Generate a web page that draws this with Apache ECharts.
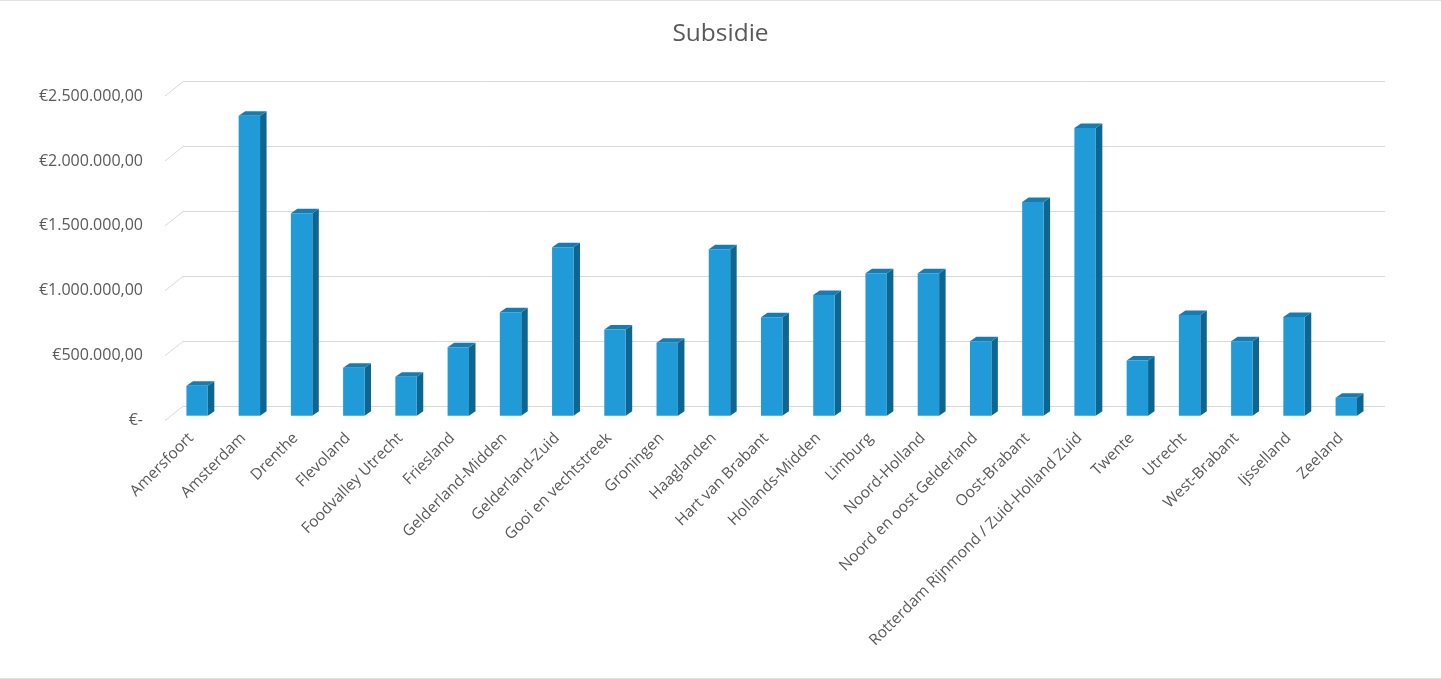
<!DOCTYPE html>
<html>
<head>
<meta charset="utf-8">
<script src="https://cdn.jsdelivr.net/npm/echarts@6/dist/echarts.min.js"></script>
<style>
html,body{margin:0;padding:0;background:#fff;}
#c{width:1441px;height:679px;box-sizing:border-box;border-top:1px solid #e3e3e3;border-bottom:1px solid #e3e3e3;}
</style>
</head>
<body>
<div id="c"></div>
<script>
const categories = ['Amersfoort','Amsterdam','Drenthe','Flevoland','Foodvalley Utrecht','Friesland','Gelderland-Midden','Gelderland-Zuid','Gooi en vechtstreek','Groningen','Haaglanden','Hart van Brabant','Hollands-Midden','Limburg','Noord-Holland','Noord en oost Gelderland','Oost-Brabant','Rotterdam Rijnmond / Zuid-Holland Zuid','Twente','Utrecht','West-Brabant','Ijsselland','Zeeland'];
const subsidie = [230000,2310000,1560000,370000,300000,528000,796000,1297000,664000,562000,1282000,758000,929000,1098000,1098000,574000,1646000,2216000,426000,776000,574000,761000,138000];
const yTicks = [0,500000,1000000,1500000,2000000,2500000];
const yTickLabels = ['€-','€500.000,00','€1.000.000,00','€1.500.000,00','€2.000.000,00','€2.500.000,00'];

const FONT = '"Open Sans"';
const TXT = '#595959';
const DEPTH_X = -18, DEPTH_Y = 14.3;
const BAR_DX = 6.5, BAR_DY = -4.5;

const chart = echarts.init(document.getElementById('c'), null, {renderer:'canvas'});
const yBase = {type:'value', min:0, max:2500000, interval:500000};
chart.setOption({
  animation:false,
  title:{text:'Subsidie', left:'center', top:16, textStyle:{fontFamily:FONT, fontSize:24.5, fontWeight:'normal', color:TXT}},
  grid:[
    {left:183, right:56, top:80.7, bottom:271.7},
    {left:165, right:74, top:95, bottom:257.3},
    {left:171, right:68.6, top:90.1, bottom:262.3}
  ],
  xAxis:[
    {gridIndex:0, type:'category', data:categories, axisLine:{show:false}, axisTick:{show:false}, axisLabel:{show:false}},
    {gridIndex:1, type:'category', data:categories, axisLine:{show:false}, axisTick:{show:false},
     axisLabel:{interval:0, rotate:45, margin:15, fontFamily:FONT, fontSize:15.5, color:TXT}},
    {gridIndex:2, type:'category', data:categories, show:false}
  ],
  yAxis:[
    Object.assign({gridIndex:0, axisLine:{show:false}, axisTick:{show:false}, axisLabel:{show:false},
      splitLine:{lineStyle:{color:'#D9D9D9', width:1}}}, yBase),
    Object.assign({gridIndex:1, axisLine:{show:false}, axisTick:{show:false}, splitLine:{show:false},
      axisLabel:{margin:22, fontFamily:FONT, fontSize:16, color:TXT,
        formatter:v => yTickLabels[Math.round(v/500000)]}}, yBase),
    Object.assign({gridIndex:2, show:false, splitLine:{show:false}}, yBase)
  ],
  series:[
    {
      type:'custom', xAxisIndex:0, yAxisIndex:0, silent:true,
      data:yTicks.map(v=>[0,v]),
      renderItem:(params, api)=>{
        const cs = params.coordSys;
        const y = api.coord([0, api.value(1)])[1];
        return {type:'line', shape:{x1:cs.x, y1:y, x2:cs.x+DEPTH_X, y2:y+DEPTH_Y},
          style:{stroke:'#D9D9D9', lineWidth:1}};
      }
    },
    {
      type:'custom', xAxisIndex:2, yAxisIndex:2, silent:true,
      data:subsidie.map((v,i)=>[i,v]),
      renderItem:(params, api)=>{
        const i = api.value(0), v = api.value(1);
        const base = api.coord([i, 0]);
        const top = api.coord([i, v]);
        const w = api.size([1,0])[0]*0.41;
        const x0 = base[0]-w/2, x1 = x0+w;
        const yt = top[1], yb = base[1];
        return {type:'group', children:[
          {type:'polygon', shape:{points:[[x1,yt],[x1+BAR_DX,yt+BAR_DY],[x1+BAR_DX,yb+BAR_DY],[x1,yb]]},
            style:{fill:'#0E6690'}},
          {type:'polygon', shape:{points:[[x0,yt],[x0+BAR_DX,yt+BAR_DY],[x1+BAR_DX,yt+BAR_DY],[x1,yt]]},
            style:{fill:'#167DB3'}},
          {type:'rect', shape:{x:x0, y:yt, width:w, height:yb-yt},
            style:{fill:'#219BD8'}}
        ]};
      }
    }
  ]
});
</script>
</body>
</html>
